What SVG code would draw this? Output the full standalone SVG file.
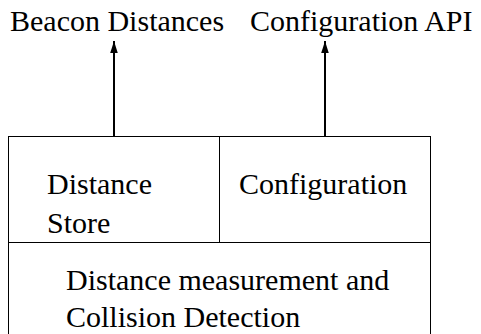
<svg xmlns="http://www.w3.org/2000/svg" width="481" height="334" viewBox="0 0 481 334">
<defs>
<marker id="ah" markerUnits="userSpaceOnUse" markerWidth="12" markerHeight="19" refX="19" refY="6" orient="auto" viewBox="0 0 19 12">
<path d="M0,0 L19,6 L0,12 Z" fill="#000"/>
</marker>
</defs>
<rect width="481" height="334" fill="#fff"/>
<g id="label-beacon"><text font-family="Liberation Serif" font-size="30" fill="#000" x="10" y="30.5">Beacon Distances</text></g>
<g id="label-config-api"><text font-family="Liberation Serif" font-size="30" fill="#000" x="250" y="30.5">Configuration API</text></g>
<g id="distance-store">
<rect fill="#fff" stroke="#000" stroke-width="1" x="8.5" y="136.5" width="211" height="106"/>
<text font-family="Liberation Serif" font-size="30" fill="#000" x="47" y="194">Distance</text>
<text font-family="Liberation Serif" font-size="30" fill="#000" x="47" y="232.5">Store</text>
</g>
<g id="configuration">
<rect fill="#fff" stroke="#000" stroke-width="1" x="219.5" y="136.5" width="211" height="106"/>
<text font-family="Liberation Serif" font-size="30" fill="#000" x="239" y="194">Configuration</text>
</g>
<g id="measurement">
<rect fill="#fff" stroke="#000" stroke-width="1" x="8.5" y="242.5" width="422" height="100"/>
<text font-family="Liberation Serif" font-size="30" fill="#000" x="66" y="290">Distance measurement and</text>
<text font-family="Liberation Serif" font-size="30" fill="#000" x="66" y="326.5">Collision Detection</text>
</g>
<g id="connectors">
<line stroke="#000" stroke-width="2" x1="114" y1="136" x2="114" y2="41" marker-end="url(#ah)"/>
<line stroke="#000" stroke-width="2" x1="325" y1="136" x2="325" y2="41" marker-end="url(#ah)"/>
</g>
</svg>
